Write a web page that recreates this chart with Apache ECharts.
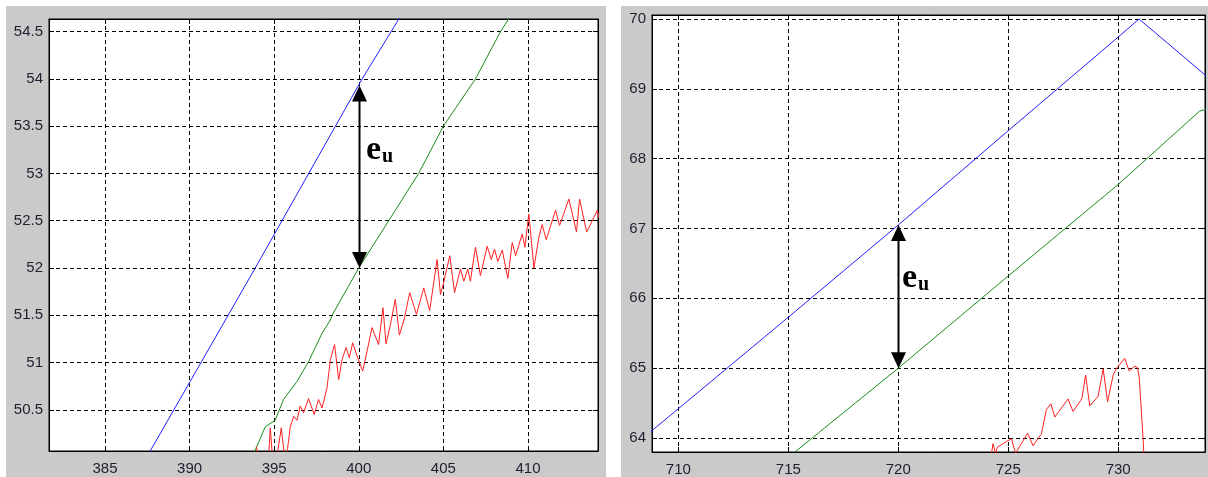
<!DOCTYPE html>
<html>
<head>
<meta charset="utf-8">
<script src="https://cdn.jsdelivr.net/npm/echarts@6/dist/echarts.min.js"></script>
<style>
html,body{margin:0;padding:0;background:#fff;}
#c{width:1208px;height:477px;}
</style>
</head>
<body>
<div id="c"></div>
<script>
// ---------- data: left panel ----------
const leftXRange = [381.69, 414.14];
const leftYRange = [50.065, 54.633];
const leftXStep = 5;
const leftYStep = 0.5;
const leftBlue = [[387.4,49.98],[390,50.79],[393.88,52.0],[400.2,54.0],[402.6,54.7]];
const leftGreen = [[393.75,50.02],[394.47,50.32],[395.06,50.39],[395.55,50.61],[396.35,50.80],[397.03,51.01],
  [397.83,51.31],[398.32,51.45],[398.42,51.5],[400,52.0],[403.54,53.0],[405,53.5],[406.9,54.0],[408.38,54.5],[409.1,54.7]];
const leftRed = [[393.94,50.11],[394.08,50.0],[394.67,50.0],[394.77,50.31],[394.90,50.0],[395.16,50.0],[395.42,50.31],
  [395.61,50.0],[395.79,50.09],[395.95,50.32],[396.15,50.43],[396.35,50.39],[396.54,50.54],[396.74,50.47],[397.03,50.62],
  [397.37,50.45],[397.62,50.61],[397.83,50.52],[398.12,50.73],[398.32,51.03],[398.57,51.19],[398.81,50.82],[399.01,51.03],
  [399.25,51.16],[399.44,51.05],[399.64,51.21],[399.90,51.07],[400.23,50.91],[400.49,51.12],[400.78,51.37],[401.17,51.19],
  [401.43,51.58],[401.61,51.20],[401.87,51.40],[402.16,51.67],[402.40,51.29],[402.70,51.47],[403.01,51.74],[403.41,51.51],
  [403.84,51.79],[404.19,51.55],[404.63,52.09],[404.83,51.72],[405.02,51.85],[405.38,52.13],[405.66,51.74],[406.01,51.99],
  [406.21,51.86],[406.44,51.99],[406.60,51.86],[406.76,52.06],[406.90,52.22],[407.19,51.92],[407.59,52.23],[407.83,52.09],
  [408.02,52.20],[408.22,52.07],[408.48,52.19],[408.81,51.89],[409.07,52.27],[409.27,52.13],[409.66,52.36],[409.82,52.22],
  [410.05,52.57],[410.15,52.39],[410.35,52.00],[410.64,52.32],[410.84,52.46],[411.08,52.30],[411.63,52.61],[411.87,52.45],
  [412.42,52.73],[412.87,52.38],[413.05,52.73],[413.47,52.38],[414.10,52.61],[414.20,52.53]];
const leftArrow = {x:400, yLow:52.0, yHigh:53.93};

// ---------- data: right panel ----------
const rightXRange = [708.8, 733.95];
const rightYRange = [63.8, 70.057];
const rightXStep = 5;
const rightYStep = 1;
const rightBlue = [[708.7,64.08],[710,64.42],[715,65.73],[720,67.05],[725,68.4],[730,69.74],[730.95,70.0],[734.1,69.16]];
const rightGreen = [[715.3,63.8],[720,65.0],[725,66.32],[730,67.63],[733.7,68.68],[734.1,68.72]];
const rightRed = [[724.24,63.78],[724.31,63.92],[724.42,63.78],[724.51,63.87],[724.92,63.95],[725.15,63.99],[725.33,63.78],
  [725.88,64.07],[726.13,63.89],[726.51,64.06],[726.74,64.41],[726.94,64.49],[727.12,64.30],[727.72,64.56],[727.95,64.38],
  [728.30,64.54],[728.36,64.58],[728.52,64.90],[728.71,64.46],[729.09,64.60],[729.32,64.99],[729.52,64.52],[729.78,64.91],
  [729.93,65.00],[730.30,65.14],[730.50,64.96],[730.76,65.03],[730.88,65.01],[730.96,64.87],[731.14,63.96],[731.18,63.7]];
const rightArrow = {x:720, yLow:65.0, yHigh:67.05};

const labelFont = {fontFamily:'Liberation Sans, Arial, sans-serif', fontSize:15, color:'#1e1e2e'};

function fmt(step){
  return function(v){
    const r = v/step;
    if (Math.abs(r - Math.round(r)) > 1e-6) return '';
    return String(+v.toFixed(3));
  };
}
function xAx(grid, range, step, pos){
  const main = pos === 'bottom';
  return {
    type:'value', gridIndex:grid, position:pos, min:range[0], max:range[1],
    minInterval:step, maxInterval:step, splitNumber:6,
    axisLine:{show:true, onZero:false, lineStyle:{color:'#000', width:1}},
    axisTick:{show:true, inside:true, length:5, lineStyle:{color:'#000'}},
    axisLabel:{show:main, margin:10, formatter:fmt(step), ...labelFont},
    splitLine:{show:main, lineStyle:{color:'#000', type:[4,3], width:1}}
  };
}
function yAx(grid, range, step, pos){
  const main = pos === 'left';
  return {
    type:'value', gridIndex:grid, position:pos, min:range[0], max:range[1],
    minInterval:step, maxInterval:step, splitNumber:8,
    axisLine:{show:true, onZero:false, lineStyle:{color:'#000', width:1}},
    axisTick:{show:true, inside:true, length:5, lineStyle:{color:'#000'}},
    axisLabel:{show:main, margin:6, formatter:fmt(step), ...labelFont},
    splitLine:{show:main, lineStyle:{color:'#000', type:[4,3], width:1}}
  };
}
function ln(data, color, xi, yi){
  return {type:'line', data:data, xAxisIndex:xi, yAxisIndex:yi, symbol:'none', clip:true,
    lineStyle:{color:color, width:1}, itemStyle:{color:color}, silent:true, animation:false};
}

const option = {
  animation:false,
  backgroundColor:'#fff',
  grid:[
    {left:49, top:19, width:549, height:432, show:true, backgroundColor:'#fff', borderColor:'#000', borderWidth:1, containLabel:false},
    {left:652, top:15, width:553, height:438, show:true, backgroundColor:'#fff', borderColor:'#000', borderWidth:1, containLabel:false}
  ],
  xAxis:[
    xAx(0, leftXRange, leftXStep, 'bottom'), xAx(0, leftXRange, leftXStep, 'top'),
    xAx(1, rightXRange, rightXStep, 'bottom'), xAx(1, rightXRange, rightXStep, 'top')
  ],
  yAxis:[
    yAx(0, leftYRange, leftYStep, 'left'), yAx(0, leftYRange, leftYStep, 'right'),
    yAx(1, rightYRange, rightYStep, 'left'), yAx(1, rightYRange, rightYStep, 'right')
  ],
  graphic:[
    {type:'rect', z:-10, shape:{x:6, y:6, width:600, height:471}, style:{fill:'#cacaca'}},
    {type:'rect', z:-10, shape:{x:621, y:6, width:587, height:471}, style:{fill:'#cacaca'}}
  ],
  series:[
    ln(leftBlue, '#2020ff', 0, 0),
    ln(leftGreen, '#1a8c1a', 0, 0),
    ln(leftRed, '#ff2020', 0, 0),
    ln(rightBlue, '#2020ff', 2, 2),
    ln(rightGreen, '#1a8c1a', 2, 2),
    ln(rightRed, '#ff2020', 2, 2)
  ]
};

const chart = echarts.init(document.getElementById('c'), null, {renderer:'canvas', width:1208, height:477});
chart.setOption(option);

function arrowParts(seriesIndex, a){
  const lo = chart.convertToPixel({seriesIndex:seriesIndex}, [a.x, a.yLow]);
  const hi = chart.convertToPixel({seriesIndex:seriesIndex}, [a.x, a.yHigh]);
  const x = Math.round(lo[0]) + 0.5;
  const hh = 16, hw = 7.5;
  return [
    {type:'line', z:100, shape:{x1:x, y1:hi[1]+hh-1, x2:x, y2:lo[1]-hh+1}, style:{stroke:'#000', lineWidth:2}},
    {type:'polygon', z:100, shape:{points:[[x,hi[1]],[x-hw,hi[1]+hh],[x+hw,hi[1]+hh]]}, style:{fill:'#000'}},
    {type:'polygon', z:100, shape:{points:[[x,lo[1]],[x-hw,lo[1]-hh],[x+hw,lo[1]-hh]]}, style:{fill:'#000'}}
  ];
}
function eu(x, y){
  return [
    {type:'text', z:101, x:x, y:y, style:{text:'e', fontFamily:'Liberation Serif, Times New Roman, serif', fontWeight:'bold', fontSize:34, fill:'#000', verticalAlign:'middle', align:'left'}},
    {type:'text', z:101, x:x+16, y:y+7, style:{text:'u', fontFamily:'Liberation Serif, Times New Roman, serif', fontWeight:'bold', fontSize:20, fill:'#000', verticalAlign:'middle', align:'left'}}
  ];
}
const extra = [].concat(arrowParts(0, leftArrow), arrowParts(3, rightArrow), eu(366, 150), eu(902, 278));
chart.setOption({graphic: option.graphic.concat(extra)});
</script>
</body>
</html>
